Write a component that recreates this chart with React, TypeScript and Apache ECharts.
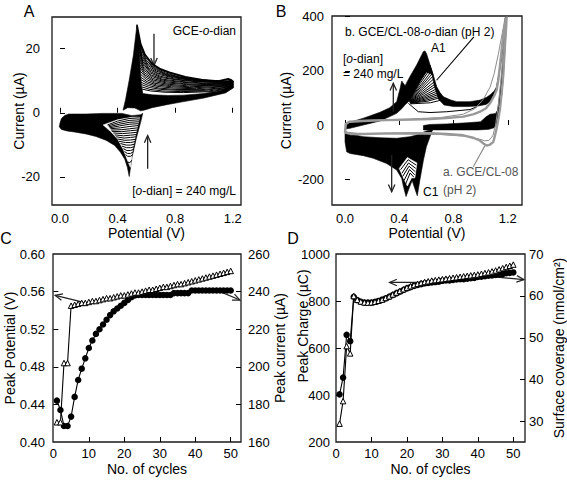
import React, { useEffect, useRef } from "react";
import * as echarts from "echarts";

const FONT = '"Liberation Sans", Arial, Helvetica, sans-serif';

// ---------- Panel A : CV of GCE in o-dianisidine (µA vs V) ----------
const aPotentialTicks = [0, 0.4, 0.8, 1.2];
const aCurrentTicks = [-20, 0, 20];
// solid black envelope of the anodic spike and of the reverse-scan band
const aUpperBand: number[][] = [
  [0.438, 0.8], [0.455, 4], [0.48, 10], [0.51, 18], [0.535, 27.6], [0.548, 22], [0.556, 15],
  [0.566, 8.5], [0.575, 6.0], [0.64, 5.6], [0.75, 5.4], [0.86, 5.5], [1.0, 6.0], [1.1, 6.8],
  [1.16, 7.6], [1.185, 10.6], [1.206, 9.9], [1.206, 7.8], [1.15, 6.2], [1.0, 4.6], [0.85, 3.4],
  [0.75, 2.6], [0.64, 1.6], [0.59, 0.9], [0.56, 0.6], [0.52, 1.5], [0.47, 1.6], [0.438, 0.8],
];
// solid black envelope of the forward-scan foot and the cathodic wave
const aLowerBand: number[][] = [
  [0.0, -3.2], [0.01, -1.8], [0.03, -0.9], [0.06, -0.4], [0.18, -0.4], [0.3, -0.2], [0.43, -0.2],
  [0.5, -0.9], [0.56, -0.6], [0.575, -0.2], [0.56, -3.0], [0.53, -8], [0.5, -14], [0.481, -19.9],
  [0.468, -17], [0.45, -14.5], [0.42, -12.3], [0.38, -10.2], [0.32, -8.6], [0.25, -7.4],
  [0.18, -6.6], [0.1, -6.0], [0.05, -5.7], [0.01, -5.2], [-0.005, -4.4],
];
// open (hatched) part of the cathodic wave
const aLowerHatchArea: number[][] = [
  [0.3, -3.8], [0.4, -2.2], [0.5, -1.4], [0.553, -1.4], [0.53, -6], [0.505, -11.5], [0.489, -17.0],
  [0.47, -15], [0.44, -11.5], [0.4, -8.2], [0.35, -5.8],
];
// anodic branches of successive cycles (first = outermost)
const aAnodicCycles: number[][][] = [
  [[0.535, 27.3], [0.56, 21.5], [0.59, 18.2], [0.64, 15.3], [0.7, 13.6], [0.76, 12.6], [0.87, 11.2], [0.99, 10.3], [1.1, 9.9], [1.17, 10.6], [1.2, 9.6]],
  [[0.537, 25.8], [0.562, 20.4], [0.595, 17.2], [0.645, 14.7], [0.71, 13.1], [0.79, 12.0], [0.91, 10.7], [1.05, 10.0], [1.19, 9.9]],
  [[0.54, 24.5], [0.565, 19.5], [0.6, 16.3], [0.65, 14.2], [0.72, 12.6], [0.82, 11.3], [0.95, 10.3], [1.1, 9.8], [1.19, 10.0]],
  [[0.542, 23.2], [0.567, 18.5], [0.605, 15.5], [0.66, 13.6], [0.735, 12.1], [0.85, 10.9], [0.98, 10.1], [1.19, 9.6]],
  [[0.545, 22], [0.57, 17.6], [0.61, 14.8], [0.67, 13.0], [0.75, 11.7], [0.87, 10.6], [1.0, 9.9], [1.19, 9.7]],
  [[0.546, 21], [0.572, 16.8], [0.615, 14.1], [0.68, 12.4], [0.77, 11.3], [0.9, 10.3], [1.19, 9.6]],
  [[0.548, 20], [0.575, 16], [0.62, 13.5], [0.69, 11.9], [0.79, 10.9], [0.92, 10.1], [1.19, 9.5]],
  [[0.55, 19], [0.578, 15.3], [0.625, 12.9], [0.695, 11.4], [0.8, 10.5], [0.95, 9.8], [1.19, 9.4]],
  [[0.551, 18], [0.58, 14.6], [0.63, 12.4], [0.7, 11.0], [0.82, 10.2], [0.98, 9.6], [1.19, 9.3]],
  [[0.552, 17], [0.582, 13.9], [0.635, 11.8], [0.71, 10.5], [0.83, 9.8], [0.99, 9.3], [1.19, 9.2]],
  [[0.554, 16], [0.585, 13.2], [0.64, 11.3], [0.72, 10.1], [0.85, 9.5], [1.0, 9.1], [1.19, 9.1]],
  [[0.555, 15], [0.587, 12.5], [0.645, 10.7], [0.73, 9.7], [0.86, 9.1], [1.02, 8.8], [1.19, 9.0]],
  [[0.557, 14], [0.59, 11.8], [0.65, 10.2], [0.74, 9.3], [0.88, 8.8], [1.05, 8.6], [1.19, 8.9]],
  [[0.558, 13], [0.595, 11.1], [0.655, 9.7], [0.75, 8.9], [0.89, 8.4], [1.19, 8.7]],
  [[0.56, 12], [0.6, 10.4], [0.66, 9.2], [0.76, 8.5], [0.9, 8.1], [1.19, 8.6]],
  [[0.561, 11.1], [0.605, 9.7], [0.67, 8.7], [0.775, 8.1], [0.93, 7.8], [1.19, 8.4]],
  [[0.563, 10.3], [0.61, 9.1], [0.68, 8.2], [0.79, 7.7], [0.95, 7.5], [1.19, 8.3]],
  [[0.564, 9.5], [0.615, 8.5], [0.69, 7.7], [0.8, 7.3], [0.98, 7.2], [1.19, 8.1]],
  [[0.566, 8.8], [0.62, 7.9], [0.7, 7.3], [0.82, 7.0], [1.0, 7.0], [1.19, 8.0]],
  [[0.567, 8.1], [0.625, 7.3], [0.715, 6.8], [0.84, 6.6], [1.03, 6.8], [1.19, 7.8]],
  [[0.569, 7.4], [0.63, 6.8], [0.73, 6.4], [0.86, 6.3], [1.05, 6.6], [1.19, 7.7]],
];
// cathodic branches of successive cycles
const aCathodicCycles: number[][][] = [
  [[0.553, -1.6], [0.48, -1.8], [0.4, -2.6], [0.33, -3.8]],
  [[0.551, -2.2], [0.48, -2.4], [0.405, -3.1], [0.335, -4.1]],
  [[0.548, -2.8], [0.48, -3.0], [0.41, -3.6], [0.34, -4.4]],
  [[0.546, -3.4], [0.48, -3.6], [0.415, -4.1], [0.345, -4.7]],
  [[0.543, -4.0], [0.48, -4.3], [0.42, -4.7], [0.35, -5.0]],
  [[0.54, -4.7], [0.485, -5.0], [0.425, -5.3], [0.355, -5.4]],
  [[0.537, -5.4], [0.49, -5.6], [0.43, -5.9], [0.36, -5.8]],
  [[0.534, -6.1], [0.49, -6.3], [0.435, -6.5], [0.37, -6.3]],
  [[0.531, -6.8], [0.49, -7.0], [0.44, -7.2], [0.38, -6.9]],
  [[0.528, -7.5], [0.49, -7.7], [0.445, -7.9], [0.39, -7.5]],
  [[0.525, -8.3], [0.49, -8.5], [0.45, -8.6], [0.4, -8.2]],
  [[0.522, -9.0], [0.49, -9.3], [0.455, -9.3], [0.41, -8.9]],
  [[0.519, -9.8], [0.49, -10.1], [0.46, -10.1], [0.42, -9.6]],
  [[0.516, -10.6], [0.49, -10.9], [0.462, -10.9], [0.43, -10.4]],
  [[0.513, -11.4], [0.49, -11.8], [0.465, -11.8], [0.44, -11.2]],
  [[0.51, -12.2], [0.49, -12.7], [0.468, -12.7], [0.448, -12.1]],
  [[0.506, -13.0], [0.49, -13.6], [0.47, -13.6], [0.455, -13.0]],
  [[0.499, -14.8], [0.485, -15.6], [0.47, -15.4]],
];
const aArrows: number[][] = [
  [0.653, 24.7, 0.653, 14.8],
  [0.609, -17.5, 0.609, -7.1],
];

// ---------- Panel B : CV of GCE/CL-08 with / without o-dian (µA vs V) ----------
const bPotentialTicks = [0, 0.4, 0.8, 1.2];
const bCurrentTicks = [-200, 0, 200, 400];
const bGreyOuter: number[][] = [
  [0.0, -28], [0.005, 4], [0.03, 12], [0.135, 15], [0.3, 18], [0.5, 20], [0.627, 22], [0.75, 26],
  [0.873, 31], [0.95, 40], [0.996, 49], [1.04, 62], [1.069, 80], [1.1, 108], [1.118, 129],
  [1.13, 165], [1.143, 221], [1.167, 332], [1.185, 385], [1.192, 400], [1.188, 360], [1.18, 300],
  [1.167, 185], [1.155, 120], [1.143, 61], [1.13, 20], [1.118, -12], [1.105, -40], [1.094, -62],
  [1.07, -72], [1.044, -76], [1.02, -68], [0.996, -58], [0.95, -48], [0.873, -38], [0.75, -33],
  [0.627, -30], [0.5, -30], [0.3, -31], [0.135, -33], [0.04, -33], [0.0, -28],
];
const bGreyInner: number[][] = [
  [0.0, -25], [0.01, 8], [0.1, 17], [0.4, 21], [0.7, 27], [0.873, 40], [0.96, 61], [1.02, 95],
  [1.07, 140], [1.1, 190], [1.13, 260], [1.16, 340], [1.18, 395], [1.17, 300], [1.15, 170],
  [1.13, 70], [1.11, 0], [1.09, -40], [1.06, -57], [1.03, -58], [0.99, -52], [0.9, -42],
  [0.7, -35], [0.4, -33], [0.1, -32], [0.0, -25],
];
const bForwardBand: number[][] = [
  [0.0, -15], [0.012, 0], [0.037, 10], [0.135, 25], [0.258, 47], [0.33, 64], [0.381, 86],
  [0.406, 135], [0.418, 162], [0.443, 145], [0.479, 179], [0.528, 221], [0.578, 271], [0.59, 273],
  [0.602, 262], [0.627, 221], [0.65, 185], [0.6, 195], [0.56, 165], [0.52, 130], [0.49, 105],
  [0.466, 85], [0.443, 75], [0.42, 61], [0.381, 43], [0.33, 31], [0.258, 15], [0.135, 0],
  [0.037, -12], [0.0, -15],
];
const bTailBand: number[][] = [
  [0.627, 221], [0.65, 185], [0.676, 141], [0.7, 120], [0.725, 104], [0.78, 92], [0.823, 86],
  [0.922, 86], [0.996, 92], [1.044, 102], [1.069, 111], [1.1, 125], [1.118, 141], [1.135, 190],
  [1.155, 246], [1.17, 310], [1.18, 344], [1.192, 400], [1.183, 400], [1.165, 300], [1.14, 200],
  [1.11, 120], [1.08, 90], [1.04, 76], [0.98, 70], [0.9, 68], [0.8, 68], [0.73, 74], [0.69, 95],
  [0.66, 140], [0.64, 190],
];
const bReverseBand: number[][] = [
  [1.192, 400], [1.175, 300], [1.16, 200], [1.14, 110], [1.125, 55], [1.11, 42], [1.07, 40],
  [1.04, 30], [1.0, 12], [0.9, 8], [0.75, 4], [0.627, 2], [0.578, -2], [0.578, -18], [0.7, -18],
  [0.85, -18], [0.98, -18], [1.06, -16], [1.1, -10], [1.12, 5], [1.14, 50], [1.16, 130],
  [1.18, 280],
];
const bCathodicBand: number[][] = [
  [0.0, -15], [0.012, -31], [0.135, -43], [0.258, -47], [0.381, -49], [0.479, -43], [0.528, -37],
  [0.6, -22], [0.627, -18], [0.65, -14], [0.64, -25], [0.6, -80], [0.578, -130], [0.553, -200],
  [0.533, -261], [0.515, -235], [0.495, -205], [0.475, -230], [0.45, -264], [0.43, -225],
  [0.418, -197], [0.381, -166], [0.307, -142], [0.209, -123], [0.135, -113], [0.037, -105],
  [0.012, -99], [0.0, -62],
];
const bCathodicHatchArea: number[][] = [
  [0.4, -160], [0.46, -120], [0.53, -140], [0.515, -195], [0.49, -195], [0.46, -225], [0.43, -195],
];
const bAnodicCycles: number[][][] = [
  [[0.47, 92], [0.54, 170], [0.615, 240]],
  [[0.47, 92], [0.545, 165], [0.62, 230]],
  [[0.47, 92], [0.55, 160], [0.627, 221]],
  [[0.47, 92], [0.555, 154], [0.633, 210]],
  [[0.47, 92], [0.56, 148], [0.64, 200]],
  [[0.471, 91], [0.562, 142], [0.646, 191]],
  [[0.472, 90], [0.565, 136], [0.652, 182]],
  [[0.473, 89], [0.567, 130], [0.658, 172]],
  [[0.474, 88], [0.57, 124], [0.665, 162]],
  [[0.475, 87], [0.572, 118], [0.67, 153]],
  [[0.476, 86], [0.575, 113], [0.676, 145]],
  [[0.477, 85], [0.58, 108], [0.683, 136]],
  [[0.478, 84], [0.585, 104], [0.69, 128]],
  [[0.479, 83], [0.59, 100], [0.697, 121]],
  [[0.48, 82], [0.595, 96], [0.705, 115]],
  [[0.481, 81], [0.602, 92], [0.715, 109]],
  [[0.482, 80], [0.61, 88], [0.725, 104]],
  [[0.484, 78], [0.63, 82], [0.75, 97]],
  [[0.467, 80], [0.54, 49], [0.627, 46], [0.75, 49], [0.922, 57], [0.971, 67]],
];
const bCathodicCycles: number[][][] = [
  [[0.41, -165], [0.465, -128], [0.525, -148]],
  [[0.42, -178], [0.468, -140], [0.522, -160]],
  [[0.425, -190], [0.472, -152], [0.518, -172]],
  [[0.435, -205], [0.476, -164], [0.514, -184]],
  [[0.445, -220], [0.48, -177], [0.508, -193]],
];
const bArrows: number[][] = [
  [0.356, 49, 0.356, 154],
  [0.344, -111, 0.344, -246],
];
const bLeaders: number[][] = [[0.95, 325, 0.675, 165]];
const bGreyLeaders: number[][] = [[0.946, -154, 1.032, -76]];

// ---------- Panels C and D : evolution with cycle number ----------
const cycleNumbers = [
  1, 2, 3, 4, 5, 6, 7, 8, 9, 10, 11, 12, 13, 14, 15, 16, 17, 18, 19, 20, 21, 22, 23, 24, 25,
  26, 27, 28, 29, 30, 31, 32, 33, 34, 35, 36, 37, 38, 39, 40, 41, 42, 43, 44, 45, 46, 47, 48, 49, 50,
];
const cycleTicks = [0, 10, 20, 30, 40, 50];
const cPotentialTicks = [0.4, 0.44, 0.48, 0.52, 0.56, 0.6];
const cCurrentTicks = [160, 180, 200, 220, 240, 260];
const cPeakPotential = [
  0.421, 0.421, 0.484, 0.484, 0.545, 0.546, 0.547, 0.548, 0.548, 0.549, 0.55, 0.55, 0.551, 0.552,
  0.553, 0.553, 0.554, 0.555, 0.556, 0.556, 0.557, 0.558, 0.559, 0.559, 0.56, 0.561, 0.562, 0.562,
  0.563, 0.564, 0.565, 0.565, 0.566, 0.567, 0.568, 0.568, 0.569, 0.57, 0.571, 0.572, 0.573, 0.574,
  0.575, 0.576, 0.577, 0.578, 0.579, 0.58, 0.581, 0.582,
];
const cPeakCurrent = [
  182, 177, 168.5, 168.5, 173.5, 184, 193, 199, 204.5, 210, 214, 217.5, 220, 222.5, 225, 227.5,
  229.5, 231, 232.5, 234, 235.5, 237, 238, 238.2, 238.2, 238.2, 238.2, 238.2, 238.2, 238.2, 238.2,
  238.2, 238.2, 239.2, 239.2, 239.2, 239.2, 239.2, 240.6, 240.6, 240.6, 240.6, 240.6, 240.6, 240.6,
  240.6, 240.6, 240.6, 240.6, 240.6,
];
const cArrowsLeft: number[][] = [[8, 0.549, 0.5, 0.556]];
const cArrowsRight: number[][] = [[46, 240.8, 52.6, 235.5]];

const dChargeTicks = [200, 400, 600, 800, 1000];
const dCoverageTicks = [30, 40, 50, 60, 70];
const dPeakCharge = [
  278, 374, 608, 577, 821, 805, 798, 794, 793, 794, 797, 801, 806, 813, 820, 828, 836, 843, 850,
  857, 863, 868, 873, 877, 881, 884, 887, 889, 891, 893, 895, 897, 899, 901, 903, 905, 907, 909,
  911, 913, 916, 919, 922, 926, 930, 935, 940, 945, 950, 955,
];
const dSurfaceCoverage = [
  36.5, 40.5, 50.7, 49.2, 59.8, 59.0, 58.6, 58.4, 58.4, 58.4, 58.6, 58.8, 59.1, 59.4, 59.8, 60.2,
  60.6, 61.0, 61.4, 61.8, 62.1, 62.4, 62.6, 62.8, 63.0, 63.1, 63.2, 63.3, 63.4, 63.6, 63.7, 63.7,
  63.8, 63.9, 64.0, 64.0, 64.1, 64.2, 64.3, 64.5, 64.6, 64.7, 64.8, 64.9, 65.0, 65.1, 65.2, 65.4,
  65.5, 65.6,
];
const dArrowsLeft: number[][] = [[27.3, 879, 15.1, 879]];
const dArrowsRight: number[][] = [[44, 64.6, 53, 63.9]];

// ---------- helpers ----------
function polygonSeries(points: number[][], xi: number, yi: number, fill: string) {
  return {
    type: "custom",
    xAxisIndex: xi,
    yAxisIndex: yi,
    silent: true,
    data: points,
    encode: { x: 0, y: 1 },
    renderItem: (params: any, api: any) => {
      if (params.dataIndex !== 0) return { type: "group", children: [] };
      return {
        type: "polygon",
        shape: { points: points.map((p) => api.coord(p)) },
        style: { fill, stroke: fill, lineWidth: 0.6 },
      };
    },
  };
}

function lineSeries(points: number[][], xi: number, yi: number, color: string, width: number) {
  return {
    type: "line",
    xAxisIndex: xi,
    yAxisIndex: yi,
    data: points,
    symbol: "none",
    showSymbol: false,
    silent: true,
    lineStyle: { color, width },
  };
}

function arrowSeries(list: number[][], xi: number, yi: number, head: boolean, color = "#000", width = 1.2) {
  return {
    type: "custom",
    xAxisIndex: xi,
    yAxisIndex: yi,
    silent: true,
    data: list,
    encode: { x: [0, 2], y: [1, 3] },
    renderItem: (params: any, api: any) => {
      const p1 = api.coord([api.value(0), api.value(1)]);
      const p2 = api.coord([api.value(2), api.value(3)]);
      const children: any[] = [
        { type: "line", shape: { x1: p1[0], y1: p1[1], x2: p2[0], y2: p2[1] }, style: { stroke: color, lineWidth: width } },
      ];
      if (head) {
        const ang = Math.atan2(p2[1] - p1[1], p2[0] - p1[0]);
        const L = 8;
        const spread = 0.42;
        const a1 = [p2[0] - L * Math.cos(ang - spread), p2[1] - L * Math.sin(ang - spread)];
        const a2 = [p2[0] - L * Math.cos(ang + spread), p2[1] - L * Math.sin(ang + spread)];
        children.push({
          type: "polyline",
          shape: { points: [a1, p2, a2] },
          style: { stroke: color, lineWidth: width, fill: "none" },
        });
      }
      return { type: "group", children };
    },
  };
}

function valueAxis(gridIndex: number, min: number, max: number, ticks: number[], digits: number, opts: any = {}) {
  const { tickValues, labelMargin, ...extra } = opts;
  return {
    type: "value",
    gridIndex,
    min,
    max,
    scale: true,
    splitLine: { show: false },
    axisLine: { show: false },
    axisTick: {
      show: true,
      inside: true,
      length: 5,
      customValues: tickValues || ticks,
      lineStyle: { color: "#000", width: 1 },
    },
    axisLabel: {
      customValues: ticks,
      formatter: (v: number) => v.toFixed(digits),
      color: "#000",
      fontSize: 13,
      lineHeight: 13,
      fontFamily: FONT,
      margin: labelMargin ?? 8,
    },
    nameTextStyle: { color: "#000", fontSize: 14, lineHeight: 14, fontFamily: FONT },
    nameLocation: "middle",
    nameMoveOverlap: false,
    ...extra,
  };
}

function textEl(text: string, x: number, y: number, size: number, align = "left", color = "#000", rich?: any) {
  return {
    type: "text",
    x,
    y,
    silent: true,
    style: {
      text,
      fill: color,
      font: `${size}px ${FONT}`,
      fontSize: size,
      fontFamily: FONT,
      align,
      verticalAlign: "middle",
      lineHeight: size + 1,
      rich,
    },
  };
}

const italicRich = (size: number, color = "#000") => ({
  n: { fontSize: size, fontFamily: FONT, color, lineHeight: size + 1 },
  i: { fontSize: size, fontFamily: FONT, fontStyle: "italic", color, lineHeight: size + 1 },
});

export default function App() {
  const ref = useRef<HTMLDivElement>(null);
  useEffect(() => {
    document.body.style.margin = "0";
    if (!ref.current) return;
    const chart = echarts.init(ref.current, undefined, { renderer: "svg" });

    const gridStyle = { show: true, borderColor: "#1a1a1a", borderWidth: 1.3, backgroundColor: "transparent" };

    const series: any[] = [];
    // Panel A
    series.push(polygonSeries(aUpperBand, 0, 0, "#000"));
    series.push(polygonSeries(aLowerBand, 0, 0, "#000"));
    series.push(polygonSeries(aLowerHatchArea, 0, 0, "#fff"));
    aAnodicCycles.forEach((c, i) => series.push(lineSeries(c, 0, 0, "#000", i === 0 ? 1.8 : 1.0)));
    aCathodicCycles.forEach((c) => series.push(lineSeries(c, 0, 0, "#000", 1.0)));
    series.push(arrowSeries(aArrows, 0, 0, true, "#222", 1.3));
    // Panel B
    series.push(polygonSeries(bForwardBand, 1, 1, "#000"));
    series.push(polygonSeries(bTailBand, 1, 1, "#000"));
    series.push(polygonSeries(bReverseBand, 1, 1, "#000"));
    series.push(polygonSeries(bCathodicBand, 1, 1, "#000"));
    series.push(polygonSeries(bCathodicHatchArea, 1, 1, "#fff"));
    bAnodicCycles.forEach((c) => series.push(lineSeries(c, 1, 1, "#000", 1.0)));
    bCathodicCycles.forEach((c) => series.push(lineSeries(c, 1, 1, "#000", 1.0)));
    series.push(lineSeries(bGreyInner, 1, 1, "#8c8c8c", 1));
    series.push(lineSeries(bGreyOuter, 1, 1, "#999999", 2.4));
    series.push(arrowSeries(bArrows, 1, 1, true, "#222", 1.3));
    series.push(arrowSeries(bLeaders, 1, 1, false, "#000", 1.1));
    series.push(arrowSeries(bGreyLeaders, 1, 1, false, "#888", 1.1));
    // Panel C
    series.push({
      type: "line",
      name: "Peak current",
      xAxisIndex: 2,
      yAxisIndex: 3,
      data: cycleNumbers.map((c, i) => [c, cPeakCurrent[i]]),
      symbol: "circle",
      symbolSize: 6.5,
      itemStyle: { color: "#000" },
      lineStyle: { color: "#000", width: 1.1 },
    });
    series.push({
      type: "line",
      name: "Peak potential",
      xAxisIndex: 2,
      yAxisIndex: 2,
      data: cycleNumbers.map((c, i) => [c, cPeakPotential[i]]),
      symbol: "triangle",
      symbolSize: 5.5,
      itemStyle: { color: "#fff", borderColor: "#000", borderWidth: 1 },
      lineStyle: { color: "#000", width: 1.1 },
    });
    series.push(arrowSeries(cArrowsLeft, 2, 2, true, "#222", 1.2));
    series.push(arrowSeries(cArrowsRight, 2, 3, true, "#222", 1.2));
    // Panel D
    series.push({
      type: "line",
      name: "Surface coverage",
      xAxisIndex: 3,
      yAxisIndex: 5,
      data: cycleNumbers.map((c, i) => [c, dSurfaceCoverage[i]]),
      symbol: "circle",
      symbolSize: 6.5,
      itemStyle: { color: "#000" },
      lineStyle: { color: "#000", width: 1.1 },
    });
    series.push({
      type: "line",
      name: "Peak charge",
      xAxisIndex: 3,
      yAxisIndex: 4,
      data: cycleNumbers.map((c, i) => [c, dPeakCharge[i]]),
      symbol: "triangle",
      symbolSize: 5.5,
      itemStyle: { color: "#fff", borderColor: "#000", borderWidth: 1 },
      lineStyle: { color: "#000", width: 1.1 },
    });
    series.push(arrowSeries(dArrowsLeft, 3, 4, true, "#222", 1.2));
    series.push(arrowSeries(dArrowsRight, 3, 5, true, "#222", 1.2));

    const option: any = {
      animation: false,
      backgroundColor: "#fff",
      textStyle: { fontFamily: FONT },
      grid: [
        { left: 52, top: 17, width: 189, height: 188, ...gridStyle },
        { left: 332, top: 16, width: 190, height: 189, ...gridStyle },
        { left: 53, top: 254, width: 188, height: 188, ...gridStyle },
        { left: 336, top: 254, width: 190, height: 188, ...gridStyle },
      ],
      xAxis: [
        valueAxis(0, -0.0556, 1.2576, aPotentialTicks, 1, { name: "Potential (V)", nameGap: 21, labelMargin: 7 }),
        valueAxis(1, -0.096, 1.305, bPotentialTicks, 1, { name: "Potential (V)", nameGap: 21, labelMargin: 7 }),
        valueAxis(2, -0.1, 52.9, cycleTicks, 0, { name: "No. of cycles", nameGap: 20, labelMargin: 5, tickValues: [10, 20, 30, 40, 50] }),
        valueAxis(3, 0, 53.3, cycleTicks, 0, { name: "No. of cycles", nameGap: 20, labelMargin: 5, tickValues: [10, 20, 30, 40, 50] }),
      ],
      yAxis: [
        valueAxis(0, -28.8, 29.9, aCurrentTicks, 0, { name: "Current (µA)", nameGap: 26, labelMargin: 12 }),
        valueAxis(1, -295, 402, bCurrentTicks, 0, { name: "Current (µA)", nameGap: 39 }),
        valueAxis(2, 0.4, 0.6, cPotentialTicks, 2, { name: "Peak Potential (V)", nameGap: 36, tickValues: [0.44, 0.48, 0.52, 0.56] }),
        valueAxis(2, 160, 260, cCurrentTicks, 0, { position: "right", name: "Peak current (µA)", nameGap: 32, labelMargin: 7, tickValues: [180, 200, 220, 240] }),
        valueAxis(3, 200, 1000, dChargeTicks, 0, {
          name: "Peak Charge (µC)",
          nameGap: 26,
          labelMargin: 6,
          tickValues: [400, 600, 800],
          nameTextStyle: { color: "#000", fontSize: 14, lineHeight: 14, fontFamily: FONT, padding: [0, 0, 0, 44] },
        }),
        valueAxis(3, 25.13, 70, dCoverageTicks, 0, { position: "right", name: "Surface coverage (nmol/cm²)", nameGap: 27, labelMargin: 4, tickValues: [30, 40, 50, 60] }),
      ],
      series,
      graphic: [
        textEl("A", 29, 11, 16, "center"),
        textEl("B", 281, 11, 16, "center"),
        textEl("C", 6, 238, 16, "center"),
        textEl("D", 293, 238, 16, "center"),
        textEl("{n|GCE-}{i|o}{n|-dian}", 236, 31, 12, "right", "#000", italicRich(12)),
        textEl("{n|[}{i|o}{n|-dian] = 240 mg/L}", 236, 191, 12, "right", "#000", italicRich(12)),
        textEl("{n|b. GCE/CL-08-}{i|o}{n|-dian (pH 2)}", 345, 32, 12, "left", "#000", italicRich(12)),
        textEl("A1", 431, 48, 12, "left"),
        textEl("{n|[}{i|o}{n|-dian]}", 343, 59, 12, "left", "#000", italicRich(12)),
        textEl("= 240 mg/L", 343, 74, 12, "left"),
        textEl("a. GCE/CL-08", 443, 172, 12, "left", "#555"),
        textEl("(pH 2)", 443, 190, 12, "left", "#555"),
        textEl("C1", 423, 192, 12, "left"),
      ],
    };
    chart.setOption(option);
    return () => chart.dispose();
  }, []);
  return <div ref={ref} style={{ width: 567, height: 485 }} />;
}
